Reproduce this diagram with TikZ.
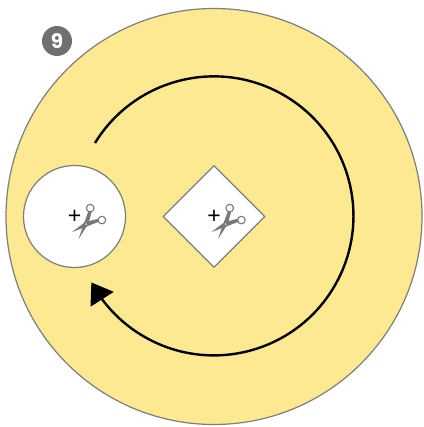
\documentclass[tikz,border=0pt]{standalone}
\usepackage{fontspec}
\setmainfont{Poppins}
\newfontfamily\plusfont{Liberation Sans}
\usetikzlibrary{arrows.meta,bending,shapes.geometric}
\definecolor{disc}{RGB}{252,233,145}
\definecolor{rim}{RGB}{125,125,125}
\definecolor{badge}{RGB}{112,112,112}
\definecolor{blade}{RGB}{120,120,120}
\tikzset{
  hole/.style={draw=rim,fill=white,line width=1.2pt,inner sep=0pt},
  plus/.style={font=\plusfont\fontsize{23}{23}\selectfont,text=black,inner sep=0pt},
  num/.style={circle,fill=badge,text=white,minimum size=30pt,inner sep=0pt,
    font=\fontsize{20}{20}\selectfont\bfseries},
  turn/.style={-{Triangle[length=20pt,width=27pt,flex=1]},line width=2.4pt,draw=black},
  % scissors next to a cross
  pics/cutter/.style={code={
    \node[plus] at (0,-0.5) {+};
    \fill[blade] (-2.6,-15.6) -- (10.6,-5.6) -- (25,-2) -- (25,-5) -- (13.5,-9.5) -- cycle;
    \fill[blade] (4,-22.6) -- (9.2,-7.5) -- (14.2,6) -- (17.3,5.3) -- (14,-7) -- cycle;
    \draw[blade,fill=white,line width=1.1pt] (15.7,8.4) circle (3.8);
    \draw[blade,fill=white,line width=1.1pt] (27.4,-3.6) circle (3.8);
    \fill[white] (11.7,-7.6) circle (0.8);
  }},
}
\begin{document}
\begin{tikzpicture}[x=1pt,y=1pt]
  \useasboundingbox (0,0) rectangle (423,427);
  \node[hole,circle,fill=disc,minimum size=416pt] (d) at (214,210.5) {};
  \node[hole,circle,minimum size=102pt] (h) at (74.5,210.5) {};
  \node[hole,diamond,minimum size=102pt,aspect=1] (k) at (214,210.5) {};
  \pic at (h.center) {cutter};
  \pic at (k.center) {cutter};
  \node[num] (n) at (57,386) {9};
  \coordinate (s) at (95,284);
  \draw[turn] (s) arc[start angle=148.5,end angle=-151.5,radius=139.5];
\end{tikzpicture}
\end{document}
